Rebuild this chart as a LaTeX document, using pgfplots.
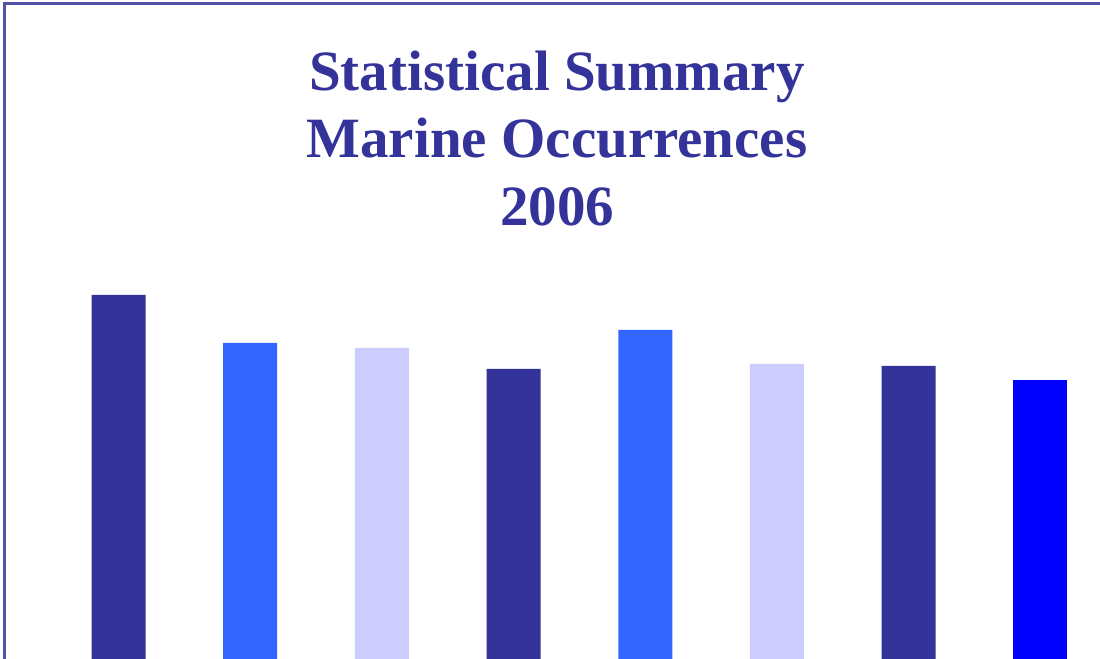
\documentclass[border=0pt]{standalone}
\usepackage{pgfplots}
\pgfplotsset{compat=1.18}
\usepackage{fontspec}
\setmainfont{Liberation Serif}
\definecolor{navy}{HTML}{333399}
\definecolor{mid}{HTML}{3366FF}
\definecolor{pale}{HTML}{CCCCFF}
\definecolor{pure}{HTML}{0000FF}
\begin{document}
\begin{tikzpicture}[x=0.5pt,y=0.5pt]
\path[use as bounding box] (0,0) rectangle (1100,659);
\begin{axis}[
  at={(0,0)}, anchor=south west,
  scale only axis, width=550pt, height=329.5pt,
  xmin=-0.9, xmax=7.453, ymin=0, ymax=659,
  hide axis, clip=false,
  ybar, bar width=27pt, bar shift=0pt,
]
\addplot[fill=navy, draw=none] coordinates {(0,364) (3,290) (6,293)};
\addplot[fill=mid, draw=none] coordinates {(1,316) (4,329)};
\addplot[fill=pale, draw=none] coordinates {(2,311) (5,295)};
\addplot[fill=pure, draw=none] coordinates {(7,279)};
\end{axis}
\draw[color=navy!85, line width=1.5] (4.5,0) -- (4.5,655.5) -- (1100,655.5);
\node[anchor=base, text=navy, font=\fontsize{28.5pt}{34pt}\selectfont\bfseries] at (557,568) {Statistical Summary};
\node[anchor=base, text=navy, font=\fontsize{28.5pt}{34pt}\selectfont\bfseries] at (557,501) {Marine Occurrences};
\node[anchor=base, text=navy, font=\fontsize{28.5pt}{34pt}\selectfont\bfseries] at (557,433) {2006};
\end{tikzpicture}
\end{document}
